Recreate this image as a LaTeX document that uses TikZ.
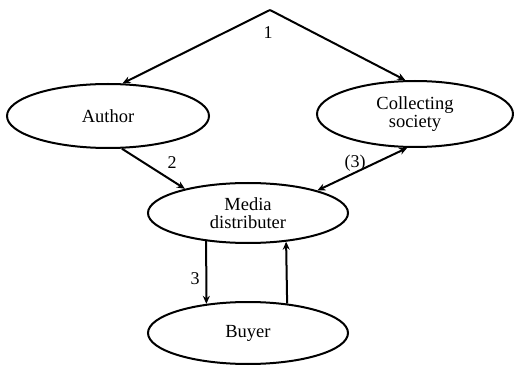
\documentclass[tikz,border=0pt]{standalone}
\usepackage{fontspec}
\setmainfont{Liberation Serif}
\usetikzlibrary{shapes.geometric,arrows.meta}
\begin{document}
\begin{tikzpicture}[x=1pt,y=-1pt,
  ell/.style={draw,ellipse,line width=2pt,inner sep=0pt,align=center,
    font=\fontsize{18.5}{18.5}\selectfont},
  conn/.style={line width=2pt,-{Stealth[length=8pt,width=7pt]}},
  both/.style={line width=2pt,{Stealth[length=8pt,width=7pt]}-{Stealth[length=8pt,width=7pt]}},
  lbl/.style={font=\fontsize{18}{19}\selectfont,inner sep=0pt}]
\useasboundingbox (0,0) rectangle (514,366);
\node[ell,minimum width=202pt,minimum height=64pt] (author) at (108,116) {Author};
\node[ell,minimum width=196pt,minimum height=66pt] (coll) at (415,114) {Collecting\\society};
\node[ell,minimum width=200pt,minimum height=60pt] (media) at (248,213) {Media\\distributer};
\node[ell,minimum width=200pt,minimum height=62pt] (buyer) at (248,333) {Buyer};
\coordinate (apex) at (270,10);
\draw[conn] (apex) -- (author.66);
\draw[conn] (apex) -- (coll.106);
\draw[conn] (author.-67) -- (media.159.6);
\draw[both] (media.18) -- (coll.-103);
\draw[conn] (media.-146.2) -- (buyer.145.4);
\draw[conn] (buyer.37.9) -- (media.-37);
\node[lbl] (l1) at (268,33) {1};
\node[lbl] (l2) at (172,163) {2};
\node[lbl] (l3p) at (355,163) {(3)};
\node[lbl] (l3) at (195,279) {3};
\end{tikzpicture}
\end{document}
